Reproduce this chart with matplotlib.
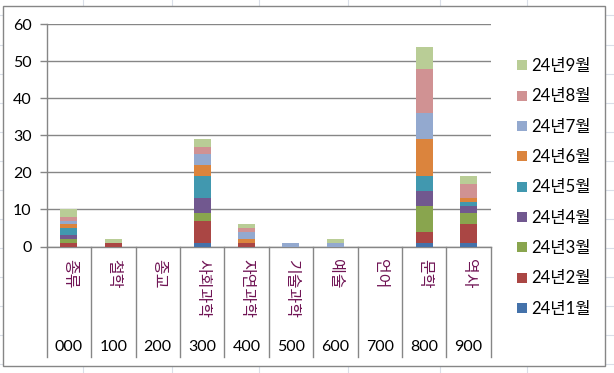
import matplotlib
matplotlib.use("Agg")
import matplotlib.pyplot as plt
from matplotlib.patches import Rectangle
from matplotlib.lines import Line2D
import numpy as np

plt.rcParams['font.family'] = ['Lato', 'Noto Sans CJK KR', 'DejaVu Sans']

categories = ['종류', '철학', '종교', '사회과학', '자연과학', '기술과학', '예술', '언어', '문학', '역사']
codes = ['000', '100', '200', '300', '400', '500', '600', '700', '800', '900']
series_names = ['24년1월', '24년2월', '24년3월', '24년4월', '24년5월', '24년6월', '24년7월', '24년8월', '24년9월']
m1 = [0, 0, 0, 1, 0, 0, 0, 0, 1, 1]
m2 = [1, 1, 0, 6, 1, 0, 0, 0, 3, 5]
m3 = [1, 0, 0, 2, 0, 0, 0, 0, 7, 3]
m4 = [1, 0, 0, 4, 0, 0, 0, 0, 4, 2]
m5 = [2, 0, 0, 6, 0, 0, 0, 0, 4, 1]
m6 = [1, 0, 0, 3, 1, 0, 0, 0, 10, 1]
m7 = [1, 0, 0, 3, 2, 1, 1, 0, 7, 0]
m8 = [1, 0, 0, 2, 1, 0, 0, 0, 12, 4]
m9 = [2, 1, 0, 2, 1, 0, 1, 0, 6, 2]
series = [m1, m2, m3, m4, m5, m6, m7, m8, m9]
colors = ['#4472AA', '#AA4644', '#89A54E', '#71588F', '#4198AF',
          '#DB843D', '#93A9CF', '#D09293', '#B9CD96']

W, H = 614, 373
fig = plt.figure(figsize=(W / 100, H / 100), dpi=100)

# spreadsheet cell gridlines in the background
for xv in [83, 172, 259, 348, 440, 527]:
    fig.add_artist(Line2D([xv / W, xv / W], [0, 1], color='#D9DEE8', lw=0.8, zorder=0))
for yv in [15, 45, 74, 103, 132, 161, 190, 219, 248, 277, 306, 335, 364]:
    fig.add_artist(Line2D([0, 1], [1 - yv / H, 1 - yv / H], color='#D9DEE8', lw=0.8, zorder=0))

# chart frame
fig.add_artist(Rectangle((3 / W, 1 - 366 / H), 602 / W, 360 / H, transform=fig.transFigure,
                         facecolor='white', edgecolor='#868686', lw=1.0, zorder=1))

ax = fig.add_axes([46.7 / W, 1 - 246.5 / H, 444 / W, 222.2 / H])
ax.set_zorder(2)
ax.patch.set_alpha(0)

x = np.arange(len(categories))
bottom = np.zeros(len(categories))
handles = []
for name, vals, c in zip(series_names, series, colors):
    b = ax.bar(x, vals, width=0.38, bottom=bottom, color=c, label=name, zorder=3)
    handles.append(b)
    bottom += np.array(vals)

ax.set_xlim(-0.5, len(categories) - 0.5)
ax.set_ylim(0, 60)
ax.set_yticks(range(0, 61, 10))
ax.yaxis.grid(True, color='#868686', lw=1.0, zorder=0)
ax.set_axisbelow(True)
for s in ['top', 'right']:
    ax.spines[s].set_visible(False)
for s in ['left', 'bottom']:
    ax.spines[s].set_color('#868686')
    ax.spines[s].set_linewidth(1.0)
ax.tick_params(axis='y', length=4.8, width=1.0, color='#868686', pad=6.0, labelsize=11.5, labelcolor='black')
ax.tick_params(axis='x', length=0, labelbottom=False)

# multi-level category axis
for i in range(len(categories) + 1):
    ax.plot([i - 0.5, i - 0.5], [0, -0.497], transform=ax.get_xaxis_transform(),
            color='#868686', lw=1.0, clip_on=False)
for i, (cat, code) in enumerate(zip(categories, codes)):
    ax.text(i, -0.058, cat, transform=ax.get_xaxis_transform(), rotation=-90,
            ha='center', va='top', fontsize=11.5, color='#701555')
    ax.text(i, -0.451, code, transform=ax.get_xaxis_transform(),
            ha='center', va='center', fontsize=11.5, color='black')

leg = fig.legend(handles[::-1], series_names[::-1], loc='center left',
                 bbox_to_anchor=(517.3 / W, 1 - 187.5 / H), frameon=False,
                 borderpad=0, borderaxespad=0, handlelength=0.56, handleheight=0.56,
                 handletextpad=0.25, labelspacing=0.86, fontsize=12)

fig.savefig('out.png', dpi=100)
